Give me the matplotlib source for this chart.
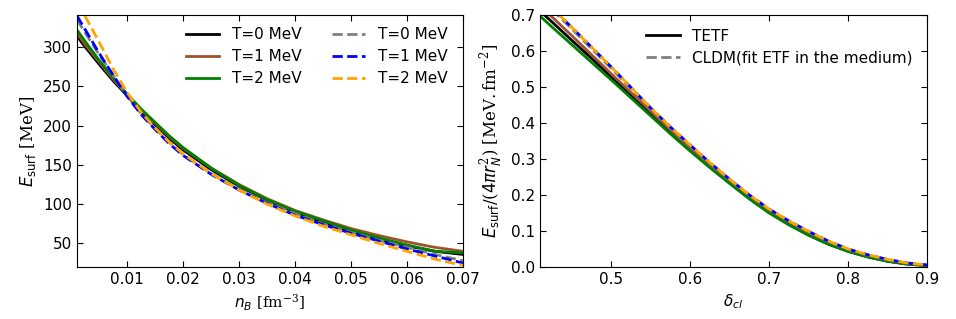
import matplotlib
matplotlib.use("Agg")
import matplotlib.pyplot as plt

plt.rcParams['mathtext.fontset'] = 'custom'
plt.rcParams['mathtext.rm'] = 'DejaVu Serif'
plt.rcParams['mathtext.it'] = 'DejaVu Sans:italic'
plt.rcParams['mathtext.sf'] = 'DejaVu Sans'
plt.rcParams['mathtext.bf'] = 'DejaVu Sans:bold'

# ---------------- left panel data ----------------
nB = [0.001, 0.0025, 0.005, 0.0075, 0.01, 0.0125, 0.015, 0.0175, 0.02, 0.025,
      0.03, 0.035, 0.04, 0.045, 0.05, 0.055, 0.06, 0.065, 0.07]
esurf_tetf_T0 = [314, 300, 278, 257, 238, 218, 201, 184, 169, 144, 123, 105, 90, 77, 65, 55, 47, 40, 36]
esurf_tetf_T1 = [318, 303, 281, 259, 239, 220, 203, 186, 171, 146, 125, 107, 92, 80, 69, 60, 52, 45, 40]
esurf_tetf_T2 = [322, 307, 283, 261, 240, 221, 204, 187, 172, 146, 124, 106, 91, 79, 67, 57, 48, 40, 38]
esurf_cldm_T0 = [335, 318, 290, 264, 238, 215, 196, 179, 163, 139, 119, 102, 88, 75, 64, 54, 45, 36, 28]
esurf_cldm_T1 = [340, 322, 292, 264, 237, 214, 195, 177, 162, 138, 118, 101, 86, 74, 63, 53, 43, 34, 25]
esurf_cldm_T2 = [356, 339, 306, 272, 242, 217, 197, 179, 164, 139, 118, 100, 85, 72, 61, 50, 40, 30, 22]
left_labels = ["T=0 MeV", "T=1 MeV", "T=2 MeV"]

# ---------------- right panel data ----------------
delta_cl = [0.41, 0.425, 0.45, 0.475, 0.5, 0.525, 0.55, 0.575, 0.6, 0.625, 0.65,
            0.675, 0.7, 0.725, 0.75, 0.775, 0.8, 0.825, 0.85, 0.875, 0.9]
sig_tetf_T0 = [0.711, 0.681, 0.630, 0.580, 0.528, 0.477, 0.426, 0.375, 0.326, 0.279, 0.234,
               0.191, 0.152, 0.119, 0.089, 0.064, 0.044, 0.028, 0.016, 0.008, 0.004]
sig_tetf_T1 = [0.725, 0.695, 0.643, 0.590, 0.537, 0.485, 0.433, 0.381, 0.331, 0.283, 0.237,
               0.194, 0.155, 0.121, 0.091, 0.066, 0.045, 0.029, 0.017, 0.009, 0.005]
sig_tetf_T2 = [0.697, 0.667, 0.618, 0.569, 0.520, 0.470, 0.420, 0.370, 0.322, 0.276, 0.232,
               0.189, 0.150, 0.117, 0.088, 0.063, 0.043, 0.028, 0.016, 0.008, 0.004]
sig_cldm_T0 = [0.748, 0.715, 0.662, 0.607, 0.552, 0.496, 0.439, 0.386, 0.336, 0.288, 0.242,
               0.199, 0.160, 0.127, 0.098, 0.071, 0.049, 0.033, 0.020, 0.011, 0.0055]
sig_cldm_T1 = [0.753, 0.720, 0.666, 0.611, 0.556, 0.499, 0.442, 0.389, 0.339, 0.290, 0.244,
               0.200, 0.161, 0.128, 0.099, 0.072, 0.050, 0.034, 0.021, 0.011, 0.0055]
sig_cldm_T2 = [0.753, 0.720, 0.666, 0.611, 0.556, 0.499, 0.442, 0.389, 0.339, 0.290, 0.244,
               0.200, 0.161, 0.128, 0.099, 0.072, 0.050, 0.034, 0.021, 0.011, 0.0055]
right_labels = ["TETF", "CLDM(fit ETF in the medium)"]

solid_colors = ["black", "sienna", "green"]
dash_colors = ["gray", "blue", "orange"]
FS = 11
LFS = 12

fig = plt.figure(figsize=(9.56, 3.19), dpi=100)
ax1 = fig.add_axes([0.0805, 0.163, 0.4038, 0.790])
ax2 = fig.add_axes([0.5649, 0.163, 0.4048, 0.790])

lw = 2.0
dash = (0, (3.7, 1.6))
for y, c, lab in zip([esurf_tetf_T0, esurf_tetf_T1, esurf_tetf_T2], solid_colors, left_labels):
    ax1.plot(nB, y, color=c, lw=lw, label=lab)
for y, c, lab in zip([esurf_cldm_T0, esurf_cldm_T1, esurf_cldm_T2], dash_colors, left_labels):
    ax1.plot(nB, y, color=c, lw=lw, ls=dash, label=lab)

ax1.set_xlim(0.001, 0.07)
ax1.set_ylim(20, 341)
ax1.set_xticks([0.01, 0.02, 0.03, 0.04, 0.05, 0.06, 0.07])
ax1.set_xticklabels(["0.01", "0.02", "0.03", "0.04", "0.05", "0.06", "0.07"])
ax1.set_yticks([50, 100, 150, 200, 250, 300])
ax1.set_xlabel(r"$n_B\ \mathrm{[fm^{-3}]}$", fontsize=FS)
ax1.set_ylabel(r"$E_{\mathsf{surf}}\ \mathrm{[MeV]}$", fontsize=LFS)
ax1.legend(ncol=2, frameon=False, fontsize=FS, loc="upper right",
           handlelength=2.2, columnspacing=2.0, labelspacing=0.45,
           bbox_to_anchor=(0.995, 1.005))

for y, c in zip([sig_tetf_T0, sig_tetf_T1, sig_tetf_T2], solid_colors):
    ax2.plot(delta_cl, y, color=c, lw=lw)
ax2.plot(delta_cl, sig_cldm_T0, color="gray", lw=lw, ls=dash)
ax2.plot(delta_cl, sig_cldm_T1, color="blue", lw=lw, ls=dash)
ax2.plot(delta_cl, sig_cldm_T2, color="orange", lw=lw, ls=(2.5, (3.7, 1.6)))
ax2.plot([], [], color="black", lw=lw, label=right_labels[0])
ax2.plot([], [], color="gray", lw=lw, ls=dash, label=right_labels[1])

ax2.set_xlim(0.41, 0.9)
ax2.set_ylim(0.0, 0.7)
ax2.set_xticks([0.5, 0.6, 0.7, 0.8, 0.9])
ax2.set_yticks([0.0, 0.1, 0.2, 0.3, 0.4, 0.5, 0.6, 0.7])
ax2.set_xlabel(r"$\delta_{cl}$", fontsize=FS)
ax2.set_ylabel(r"$E_{\mathsf{surf}}/(\mathsf{4}\pi r_N^2)\ \mathrm{[MeV.fm^{-2}]}$", fontsize=LFS)
ax2.legend(frameon=False, fontsize=FS, loc="upper left",
           handlelength=2.2, labelspacing=0.45, bbox_to_anchor=(0.238, 1.0))

for ax in (ax1, ax2):
    ax.tick_params(direction="in", top=True, right=True, labelsize=FS, length=4)

fig.savefig("out.png", dpi=100)
